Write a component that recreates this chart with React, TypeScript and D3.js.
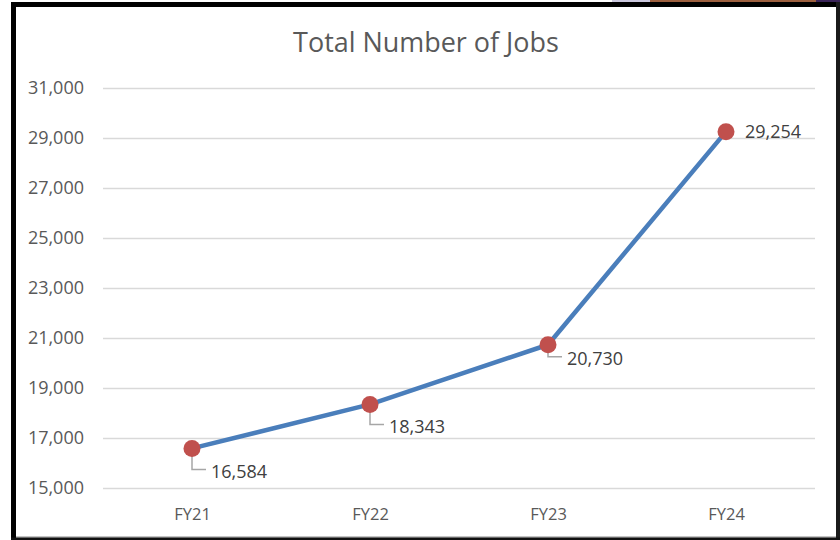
import React, { useEffect, useRef } from "react";
import * as d3 from "d3";

const categories: string[] = ["FY21", "FY22", "FY23", "FY24"];
const jobs: number[] = [16584, 18343, 20730, 29254];
const yTicks: number[] = [15000, 17000, 19000, 21000, 23000, 25000, 27000, 29000, 31000];
const title = "Total Number of Jobs";
// label offsets (layout) relative to each point: [dx, dy, leader?]
const labelLayout: [number, number, boolean][] = [
  [19, 23, true],
  [19, 22, true],
  [19, 14, true],
  [19, 0, false],
];

const W = 840;
const H = 540;
const plot = { left: 103, right: 815, top: 88, bottom: 488 };
const FONT = "'Open Sans', 'DejaVu Sans', sans-serif";

export default function App() {
  const ref = useRef<SVGSVGElement | null>(null);

  useEffect(() => {
    const svg = d3.select(ref.current);
    svg.selectAll("*").remove();

    // background + screenshot frame
    svg.append("rect").attr("x", 0).attr("y", 0).attr("width", W).attr("height", H).attr("fill", "#ffffff");
    svg.append("rect").attr("x", 612).attr("y", 0).attr("width", 38).attr("height", 2).attr("fill", "#c9c6dc");
    svg.append("rect").attr("x", 650).attr("y", 0).attr("width", 166).attr("height", 2).attr("fill", "#9c5f3e");
    svg.append("rect").attr("x", 816).attr("y", 0).attr("width", 24).attr("height", 2).attr("fill", "#3a2458");
    svg.append("rect").attr("x", 11).attr("y", 2).attr("width", W - 11).attr("height", 5).attr("fill", "#000");
    svg.append("rect").attr("x", 11).attr("y", 2).attr("width", 5).attr("height", H - 2).attr("fill", "#000");
    svg.append("rect").attr("x", 836).attr("y", 2).attr("width", 4).attr("height", H - 2).attr("fill", "#1a1a1a");
    svg.append("rect").attr("x", 16).attr("y", 536.5).attr("width", 820).attr("height", 1).attr("fill", "#8a8a8a");
    svg.append("rect").attr("x", 11).attr("y", 537.5).attr("width", W - 11).attr("height", 3).attr("fill", "#111");

    const x = d3.scalePoint<string>().domain(categories).range([plot.left, plot.right]).padding(0.5);
    const y = d3.scaleLinear().domain([15000, 31000]).range([plot.bottom, plot.top]);
    const fmt = d3.format(",");

    // gridlines
    const yAxis = d3
      .axisLeft(y)
      .tickValues(yTicks)
      .tickSize(-(plot.right - plot.left))
      .tickPadding(19)
      .tickFormat((d) => fmt(d as number));
    const gy = svg.append("g").attr("transform", `translate(${plot.left},0)`).call(yAxis);
    gy.select(".domain").remove();
    gy.selectAll(".tick line").attr("stroke", "#d9d9d9").attr("stroke-width", 1.5);
    gy.selectAll(".tick text")
      .attr("fill", "#595959")
      .attr("font-family", FONT)
      .attr("font-size", 18);

    // x axis labels
    const xAxis = d3.axisBottom(x).tickSize(0).tickPadding(20);
    const gx = svg.append("g").attr("transform", `translate(0,${plot.bottom})`).call(xAxis);
    gx.select(".domain").remove();
    gx.selectAll(".tick text")
      .attr("fill", "#595959")
      .attr("font-family", FONT)
      .attr("font-size", 16.5);

    // title
    const t = svg
      .append("text")
      .attr("x", 426)
      .attr("y", 52)
      .attr("text-anchor", "middle")
      .attr("fill", "#595959")
      .attr("font-family", FONT)
      .attr("font-size", 25)
      .text(title);
    const node = t.node() as SVGTextElement;
    const len = node.getComputedTextLength();
    if (len > 0) t.attr("font-size", (25 * 266) / len);

    // line
    const line = d3
      .line<number>()
      .x((_, i) => x(categories[i]) as number)
      .y((d) => y(d));
    svg
      .append("path")
      .datum(jobs)
      .attr("d", line)
      .attr("fill", "none")
      .attr("stroke", "#4a7ebb")
      .attr("stroke-width", 4.5)
      .attr("stroke-linejoin", "round");

    // leaders
    jobs.forEach((v, i) => {
      const [dx, dy, leader] = labelLayout[i];
      const px = x(categories[i]) as number;
      const py = y(v);
      if (leader) {
        svg
          .append("path")
          .attr("d", `M${px},${py} V${py + dy - 2} H${px + dx - 5}`)
          .attr("fill", "none")
          .attr("stroke", "#a6a6a6")
          .attr("stroke-width", 1.5);
      }
    });

    // markers
    svg
      .selectAll("circle.pt")
      .data(jobs)
      .join("circle")
      .attr("class", "pt")
      .attr("cx", (_, i) => x(categories[i]) as number)
      .attr("cy", (d) => y(d))
      .attr("r", 8.5)
      .attr("fill", "#c0504d");

    // labels
    jobs.forEach((v, i) => {
      const [dx, dy] = labelLayout[i];
      const px = x(categories[i]) as number;
      const py = y(v);
      svg
        .append("text")
        .attr("x", px + dx)
        .attr("y", py + dy)
        .attr("dy", "0.35em")
        .attr("fill", "#404040")
        .attr("font-family", FONT)
        .attr("font-size", 18)
        .text(fmt(v));
    });
  }, []);

  return (
    <svg
      ref={ref}
      width={W}
      height={H}
      style={{ position: "absolute", left: 0, top: 0, display: "block" }}
    />
  );
}
